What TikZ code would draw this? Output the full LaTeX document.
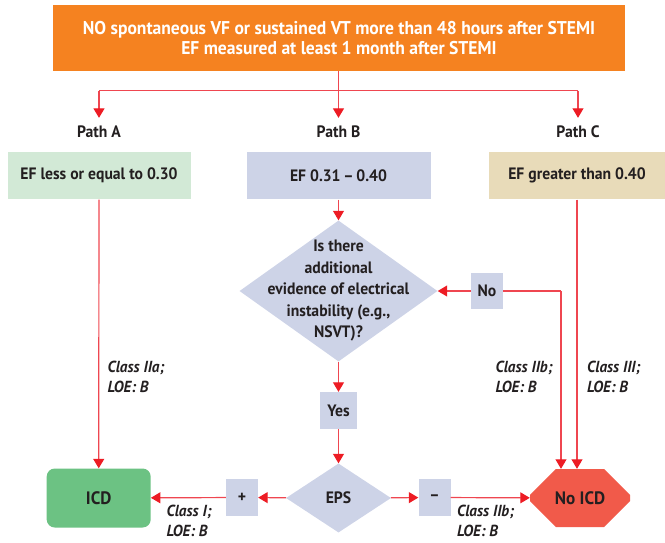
\documentclass[tikz,border=0pt]{standalone}
\usepackage{fontspec}
\setmainfont{PT Sans}[FakeStretch=0.95]
\usetikzlibrary{shapes.geometric}
\usetikzlibrary{shapes.misc}
\usetikzlibrary{positioning}
\usetikzlibrary{arrows.meta}
\definecolor{stemiorange}{HTML}{F58220}
\definecolor{pathgreen}{HTML}{D2E9D6}
\definecolor{pathblue}{HTML}{CDD3E7}
\definecolor{pathbeige}{HTML}{E8DBB9}
\definecolor{icdgreen}{HTML}{6CC283}
\definecolor{noicdred}{HTML}{F15A4A}
\definecolor{flowred}{HTML}{ED1C24}
\definecolor{linkred}{HTML}{EF4650}
\definecolor{ink}{HTML}{231F20}
\tikzset{
txt/.style={font=\fontsize{16.5}{21.5}\selectfont\bfseries, text=ink},
pathlabel/.style={txt, inner xsep=2pt, inner ysep=7.5pt},
pathbox/.style={txt, minimum height=47.6pt, inner sep=0pt},
tag/.style={txt, fill=pathblue, minimum width=32pt, minimum height=36.5pt, inner sep=0pt},
note/.style={font=\fontsize{16}{20.5}\selectfont\bfseries\itshape, text=ink, align=left, inner sep=0pt, anchor=west},
link/.style={draw=linkred, line width=1.2pt},
flow/.style={link, -{Triangle[length=9.5pt, width=11pt, color=flowred]}}
}

\begin{document}
\begin{tikzpicture}[x=1pt, y=-1pt]
\useasboundingbox (0,0) rectangle (665,542);
% top condition
\node (stemi) [txt, font=\fontsize{18.5}{20.7}\selectfont\bfseries, text=white, fill=stemiorange, minimum width=572pt, minimum height=66pt, align=center] at (339,38) {NO spontaneous VF or sustained VT more than 48 hours after STEMI\\EF measured at least 1 month after STEMI};

% three paths
\node (patha) [pathlabel] at (99,131.5) {Path A};
\node (pathb) [pathlabel] at (338.5,131.5) {Path B};
\node (pathc) [pathlabel] at (578,131.5) {Path C};
\coordinate (splita) at (99,90.7);
\coordinate (splitc) at (578,90.7);
\draw[link] (splita) -- (splitc);
\draw[flow] (stemi.south -| pathb) -- (pathb);
\draw[flow] (splita) -- (patha);
\draw[flow] (splitc) -- (pathc);

\node (efa) [pathbox, fill=pathgreen, minimum width=183pt] at (99,175.5) {EF less or equal to 0.30};
\node (efb) [pathbox, fill=pathblue, minimum width=184pt] at (338.5,175.5) {EF 0.31\,--\,0.40};
\node (efc) [pathbox, fill=pathbeige, minimum width=176pt] at (577,175.5) {EF greater than 0.40};

% path B
\node (ask) [diamond, fill=pathblue, minimum width=198pt, minimum height=141pt, inner sep=0pt,
  label={[txt, align=center]center:Is there\\additional\\evidence of electrical\\instability (e.g.,\\NSVT)?}] at (338.5,291) {};
\node (no) [tag] at (487,291) {No};
\node (yes) [tag, minimum width=37pt, minimum height=37pt] at (338.5,410.5) {Yes};
\node (eps) [diamond, txt, fill=pathblue, minimum width=105pt, minimum height=69pt, inner sep=0pt] at (338.5,498) {EPS};
\node (plus) [tag] at (242,497.5) {+};
\node (minus) [tag] at (434.5,497.5) {--};

% outcomes
\node (icd) [fill=icdgreen, rounded corners=8pt, minimum width=104pt, minimum height=59pt, font=\fontsize{18}{20}\selectfont\bfseries, text=ink] at (98.7,498) {ICD};
\node (noicd) [chamfered rectangle, chamfered rectangle sep=16pt, fill=noicdred, minimum width=100pt, minimum height=58pt, font=\fontsize{18}{20}\selectfont\bfseries, text=ink] at (580,498) {No ICD};

\node (notea) [note] at (107.5,377) {Class IIa;\\LOE: B};
\node (noteb) [note] at (495.5,377) {Class IIb;\\LOE: B};
\node (notec) [note] at (587,377) {Class III;\\LOE: B};
\node (noted) [note] at (166.5,521) {Class I;\\LOE: B};
\node (notee) [note] at (457,521) {Class IIb;\\LOE: B};

\draw[flow] (efb) -- (ask);
\draw[flow] (no) -- (ask);
\coordinate (nobend) at (561,291);
\draw[link] (no) -- (nobend);
\draw[flow] (nobend) -- (nobend |- noicd.north);
\draw[flow] (efa) -- (icd);
\draw[flow] (efc.south) -- (efc.south |- noicd.north);
\draw[flow] (ask) -- (yes);
\draw[flow] (yes) -- (eps);
\draw[flow] (eps) -- (plus);
\draw[flow] (plus) -- (icd);
\draw[flow] (eps) -- (minus);
\draw[flow] (minus) -- (noicd);
\end{tikzpicture}
\end{document}
